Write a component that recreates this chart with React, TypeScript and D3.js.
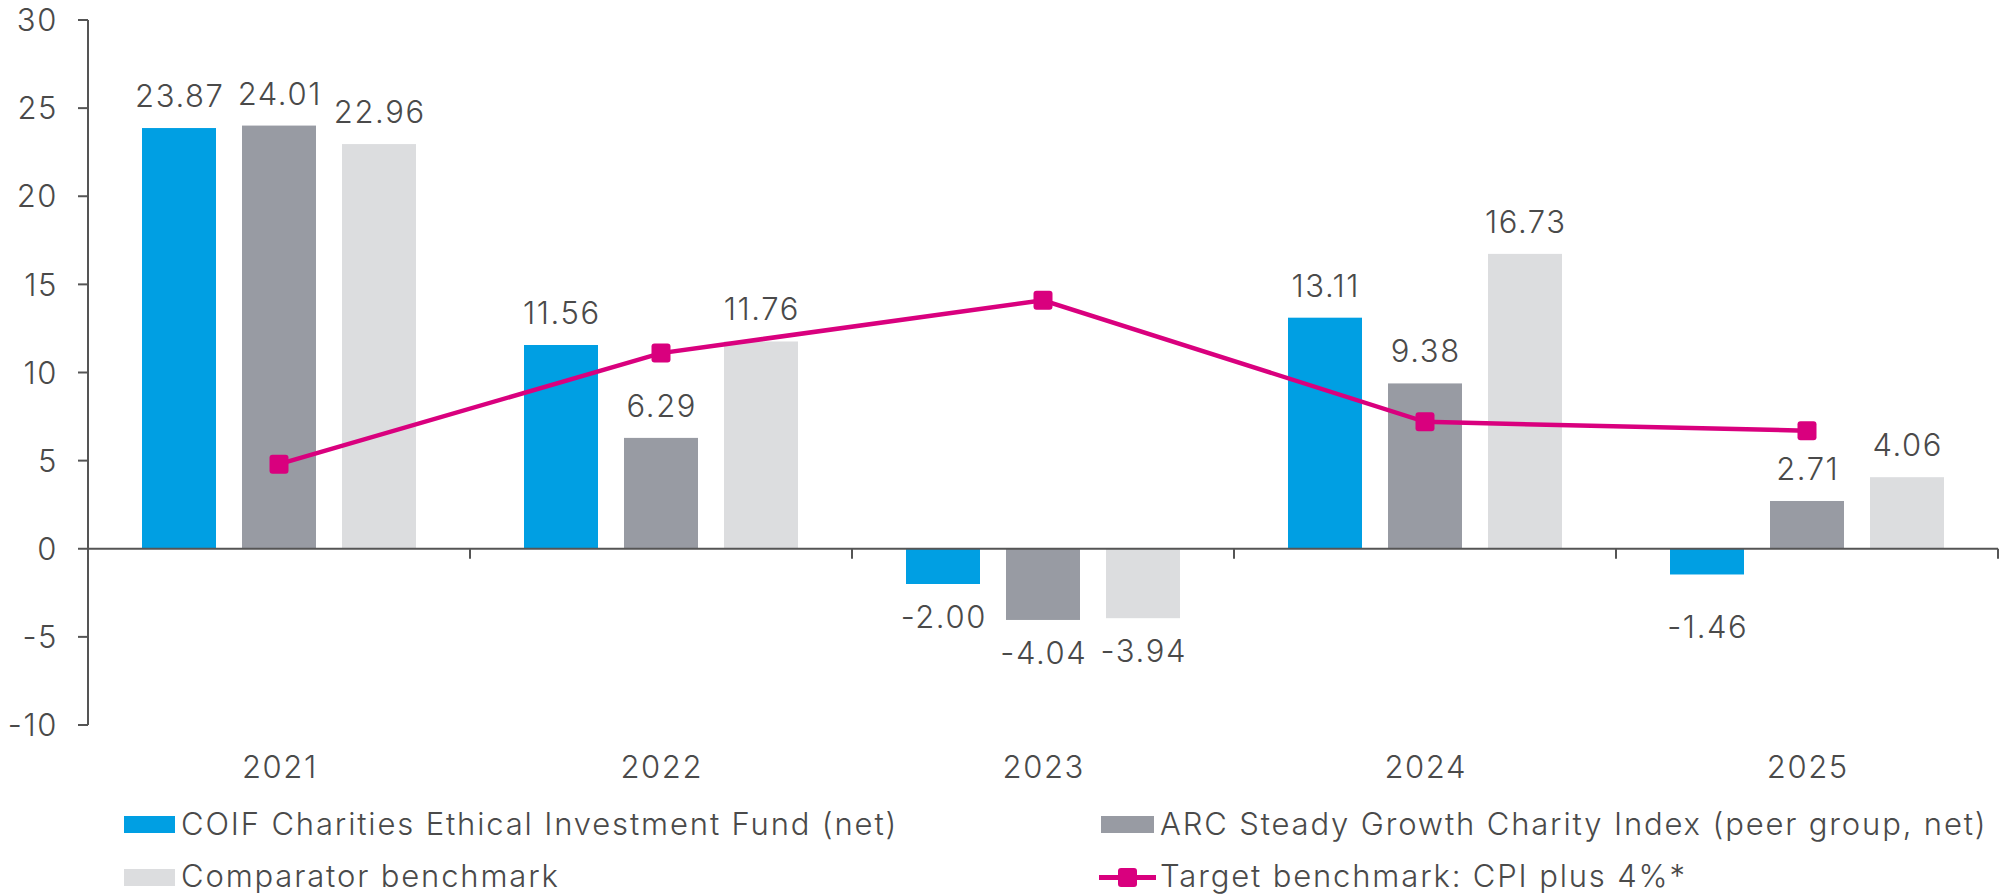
import React from 'react'
import * as d3 from 'd3'

const years = ['2021', '2022', '2023', '2024', '2025']
const seriesNames = [
  'COIF Charities Ethical Investment Fund (net)',
  'ARC Steady Growth Charity Index (peer group, net)',
  'Comparator benchmark',
]
const coifValues = [23.87, 11.56, -2.0, 13.11, -1.46]
const arcValues = [24.01, 6.29, -4.04, 9.38, 2.71]
const comparatorValues = [22.96, 11.76, -3.94, 16.73, 4.06]
const targetName = 'Target benchmark: CPI plus 4%*'
const targetValues = [4.8, 11.1, 14.1, 7.2, 6.7]
const yTicks = [-10, -5, 0, 5, 10, 15, 20, 25, 30]

const barColors = ['#009fe3', '#989ba3', '#dcdddf']
const pink = '#d9007e'
const textColor = '#4a4a4a'
const axisColor = '#555555'
const font = 'Inter, "Open Sans", sans-serif'
const fs = 31
const ls = 1.6

const W = 2006
const H = 896

const App = () => {
  const y = d3.scaleLinear().domain([-10, 30]).range([725, 20])
  const x0 = d3.scaleBand().domain(years).range([88, 1998]).padding(0)
  const x1 = d3.scaleBand<number>()
    .domain([0, 1, 2])
    .range([54, x0.bandwidth() - 54])
    .paddingInner(0.26)

  const values = [coifValues, arcValues, comparatorValues]

  const line = d3.line<number>()
    .x((d, i) => x0(years[i])! + x0.bandwidth() / 2)
    .y(d => y(d))

  // the -1.46 label sits lower in the original
  const labelNudge = (s: number, i: number) => (s === 0 && years[i] === '2025' ? 20 : 0)

  const boundaries = years.map(yr => x0(yr)!).concat([x0.range()[1]])

  return (
    <svg width={W} height={H} style={{ position: 'absolute', left: 0, top: 0 }}
      fontFamily={font} fontWeight={300} letterSpacing={ls}>
      {/* bars */}
      {values.map((vals, s) =>
        vals.map((v, i) => (
          <rect key={`b${s}-${i}`}
            x={x0(years[i])! + x1(s)!}
            y={Math.min(y(v), y(0))}
            width={x1.bandwidth()}
            height={Math.abs(y(v) - y(0))}
            fill={barColors[s]} />
        ))
      )}

      {/* value labels */}
      {values.map((vals, s) =>
        vals.map((v, i) => (
          <text key={`l${s}-${i}`}
            x={x0(years[i])! + x1(s)! + x1.bandwidth() / 2 + ls / 2}
            y={v >= 0 ? y(v) - 21 : y(v) + 44 + labelNudge(s, i)}
            textAnchor="middle" fontSize={fs} fill={textColor}>
            {v.toFixed(2)}
          </text>
        ))
      )}

      {/* y axis */}
      <line x1={88} x2={88} y1={y(30)} y2={y(-10)} stroke={axisColor} strokeWidth={2} />
      {yTicks.map(t => (
        <g key={`t${t}`}>
          <line x1={78} x2={88} y1={y(t)} y2={y(t)} stroke={axisColor} strokeWidth={2} />
          <text x={58} y={y(t)} dy="0.36em" textAnchor="end" fontSize={fs} fill={textColor}>{t}</text>
        </g>
      ))}

      {/* x axis */}
      <line x1={88} x2={x0.range()[1]} y1={y(0)} y2={y(0)} stroke={axisColor} strokeWidth={2} />
      {boundaries.map((bx, i) => (
        <line key={`xt${i}`} x1={bx} x2={bx} y1={y(0)} y2={y(0) + 10} stroke={axisColor} strokeWidth={2} />
      ))}
      {years.map(yr => (
        <text key={`c${yr}`} x={x0(yr)! + x0.bandwidth() / 2 + ls / 2} y={778}
          textAnchor="middle" fontSize={fs} fill={textColor}>{yr}</text>
      ))}

      {/* target line */}
      <path d={line(targetValues) ?? ''} fill="none" stroke={pink} strokeWidth={4.5} />
      {targetValues.map((v, i) => (
        <rect key={`m${i}`}
          x={x0(years[i])! + x0.bandwidth() / 2 - 9.5}
          y={y(v) - 9.5}
          width={19} height={19} rx={3} fill={pink} />
      ))}

      {/* legend */}
      <g fontSize={fs} fill={textColor} letterSpacing={1.85}>
        <rect x={124} y={816} width={51} height={17} fill={barColors[0]} />
        <text x={181} y={835}>{seriesNames[0]}</text>
        <rect x={1101} y={816} width={53} height={17} fill={barColors[1]} />
        <text x={1160} y={835}>{seriesNames[1]}</text>
        <rect x={124} y={869} width={51} height={17} fill={barColors[2]} />
        <text x={181} y={887}>{seriesNames[2]}</text>
        <line x1={1099} x2={1156} y1={877.5} y2={877.5} stroke={pink} strokeWidth={5} />
        <rect x={1118} y={868} width={19} height={19} rx={3} fill={pink} />
        <text x={1160} y={887}>{targetName}</text>
      </g>
    </svg>
  )
}

export default App
